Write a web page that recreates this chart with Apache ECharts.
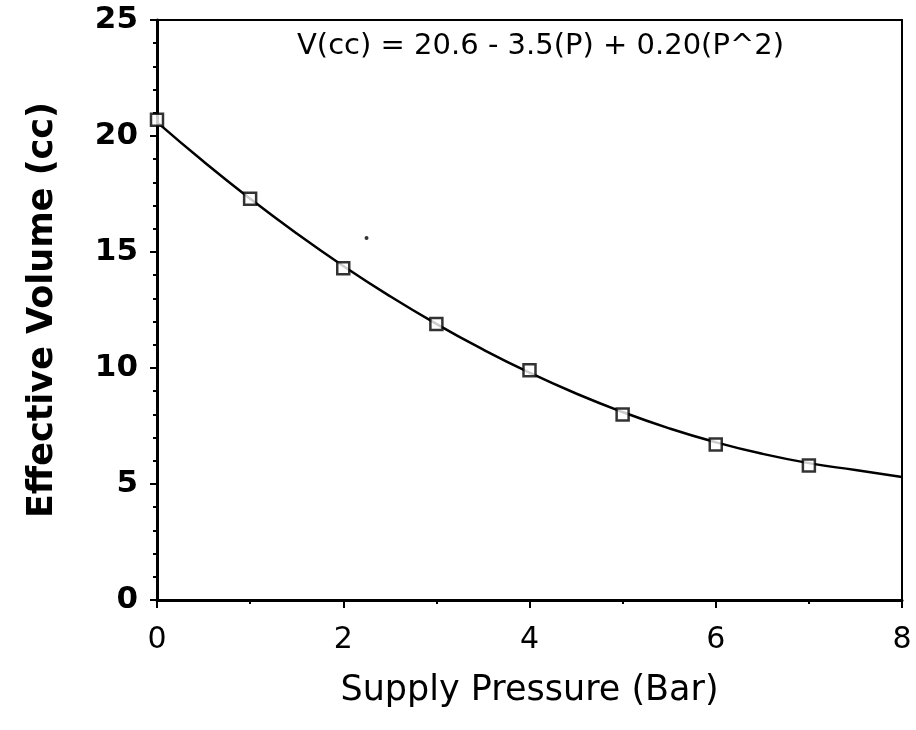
<!DOCTYPE html>
<html>
<head>
<meta charset="utf-8">
<script src="https://cdn.jsdelivr.net/npm/echarts@6/dist/echarts.min.js"></script>
<style>
    html, body { margin: 0; padding: 0; background: #fff; }
    #chart { width: 916px; height: 730px; }
</style>
</head>
<body>
<div id="chart"></div>
<script>
    // measured points (supply pressure in bar, volume in cc)
    var pressure = [0, 1, 2, 3, 4, 5, 6, 7];
    var volume = [20.7, 17.3, 14.3, 11.9, 9.9, 8.0, 6.7, 5.8];

    // fitted curve, every half bar
    var curveP = [0, 0.5, 1, 1.5, 2, 2.5, 3, 3.5, 4, 4.5, 5, 5.5, 6, 6.5, 7, 7.5, 8];
    var curveV = [20.6, 18.9, 17.3, 15.8, 14.4, 13.1, 11.9, 10.8, 9.8, 8.9, 8.1, 7.4, 6.8, 6.3, 5.9, 5.6, 5.3];

    // stray speck on the original scan
    var speck = [[2.25, 15.6]];

    var equation = 'V(cc) = 20.6 - 3.5(P) + 0.20(P^2)';
    var xTitle = 'Supply Pressure (Bar)';
    var yTitle = 'Effective Volume (cc)';

    var chart = echarts.init(document.getElementById('chart'));
    chart.setOption({
        animation: false,
        backgroundColor: '#fff',
        grid: {
            left: 157,
            right: 14,
            top: 20,
            bottom: 130,
            show: true,
            borderColor: '#000',
            borderWidth: 2
        },
        graphic: [
            {
                type: 'text',
                left: 297,
                top: 32,
                style: {
                    text: equation,
                    fontFamily: 'DejaVu Sans',
                    fontSize: 29,
                    fill: '#000'
                }
            }
        ],
        xAxis: {
            type: 'value',
            min: 0,
            max: 8,
            interval: 2,
            name: xTitle,
            nameLocation: 'middle',
            nameGap: 73,
            nameTextStyle: {
                fontFamily: 'DejaVu Sans',
                fontSize: 35,
                color: '#000'
            },
            axisLine: { lineStyle: { color: '#000', width: 3 } },
            axisTick: { show: true, inside: false, length: 8, lineStyle: { color: '#000', width: 2 } },
            minorTick: { show: true, splitNumber: 2, length: 4, lineStyle: { color: '#000', width: 2 } },
            splitLine: { show: false },
            axisLabel: {
                margin: 25,
                fontFamily: 'DejaVu Sans',
                fontSize: 30,
                color: '#000'
            }
        },
        yAxis: {
            type: 'value',
            min: 0,
            max: 25,
            interval: 5,
            name: yTitle,
            nameLocation: 'middle',
            nameGap: 97,
            nameRotate: 90,
            nameTextStyle: {
                fontFamily: 'DejaVu Sans',
                fontWeight: 'bold',
                fontSize: 35,
                color: '#000',
                padding: [0, 0, 0, 0]
            },
            axisLine: { lineStyle: { color: '#000', width: 3 } },
            axisTick: { show: true, inside: false, length: 7, lineStyle: { color: '#000', width: 2 } },
            minorTick: { show: true, splitNumber: 5, length: 4, lineStyle: { color: '#000', width: 2 } },
            splitLine: { show: false },
            axisLabel: {
                margin: 19,
                fontFamily: 'DejaVu Sans',
                fontWeight: 'bold',
                fontSize: 31,
                color: '#000'
            }
        },
        series: [
            {
                name: 'fit',
                type: 'line',
                data: curveP.map(function (p, i) { return [p, curveV[i]]; }),
                smooth: true,
                showSymbol: false,
                lineStyle: { color: '#000', width: 2.5 },
                z: 2
            },
            {
                name: 'measured',
                type: 'scatter',
                data: pressure.map(function (p, i) { return [p, volume[i]]; }),
                symbol: 'rect',
                symbolSize: 12,
                itemStyle: { color: '#fff', borderColor: '#000', borderWidth: 2.5 },
                z: 3
            },
            {
                name: 'speck',
                type: 'scatter',
                data: speck,
                symbol: 'circle',
                symbolSize: 4,
                itemStyle: { color: '#000' },
                z: 3
            }
        ]
    });
</script>
</body>
</html>
